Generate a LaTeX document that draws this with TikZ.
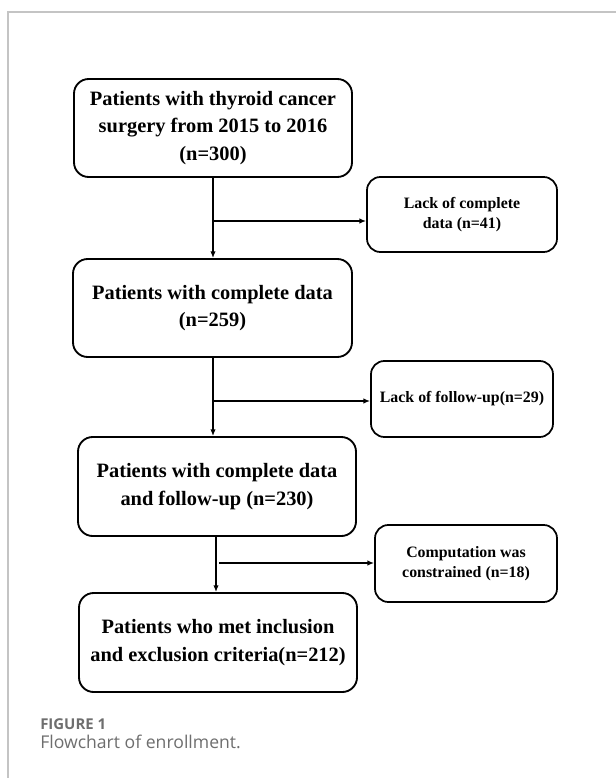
\documentclass[tikz,border=0pt]{standalone}
\usepackage{fontspec}
\setmainfont{Liberation Serif}
\newfontfamily\capfont{Open Sans}
\usetikzlibrary{arrows.meta}
\definecolor{framegray}{HTML}{C4C4C4}
\definecolor{capgray}{HTML}{6E6E6E}
\begin{document}
\begin{tikzpicture}[x=0.75pt,y=-0.75pt,
  mainbox/.style={draw=black,line width=1.4pt,rounded corners=11pt,inner sep=0pt,
    align=center,font=\fontsize{15.3}{20.5}\selectfont\bfseries},
  sidebox/.style={draw=black,line width=1.3pt,rounded corners=10pt,inner sep=0pt,
    align=center,font=\fontsize{11.9}{15}\selectfont\bfseries},
  arr/.style={line width=1.1pt,-{Latex[length=5pt,width=4pt]}},
  framel/.style={draw=framegray,line width=1.1pt}]
\useasboundingbox (0,0) rectangle (616,778);
\fill[white] (0,0) rectangle (616,778);
% frame
\draw[framel] (8,778) -- (8,12) -- (616,12);
% main boxes
\node[mainbox,minimum width=208.5pt,minimum height=73.5pt] (b1) at (213,128)
  {Patients with thyroid cancer\\surgery from 2015 to 2016\\(n=300)};
\node[mainbox,minimum width=209.25pt,minimum height=73.5pt] (b2) at (212.5,308)
  {Patients with complete data\\(n=259)};
\node[mainbox,minimum width=208.5pt,minimum height=74.25pt] (b3) at (217,486.5)
  {Patients with complete data\\and follow-up (n=230)};
\node[mainbox,minimum width=208.5pt,minimum height=74.25pt] (b4) at (218,642.5)
  {Patients who met inclusion\\and exclusion criteria(n=212)};
% side boxes
\node[sidebox,minimum width=142.5pt,minimum height=56.25pt] (s1) at (462,214.5)
  {Lack of complete\\data (n=41)};
\node[sidebox,minimum width=136.5pt,minimum height=57pt] (s2) at (462,399)
  {Lack of follow-up(n=29)};
\node[sidebox,minimum width=136.5pt,minimum height=57.75pt] (s3) at (466,563.5)
  {Computation was\\constrained (n=18)};
% connectors
\coordinate (t1) at (213,177);
\coordinate (t2) at (213,357);
\coordinate (t3) at (216,536);
\coordinate (j1) at (213,221);
\coordinate (j2) at (213,401);
\coordinate (j3) at (219,563);
\draw[arr] (t1) -- (t1 |- b2.north);
\draw[arr] (j1) -- (j1 -| s1.west);
\draw[arr] (t2) -- (t2 |- b3.north);
\draw[arr] (j2) -- (j2 -| s2.west);
\draw[arr] (t3) -- (t3 |- b4.north);
\draw[arr] (j3) -- (j3 -| s3.west);
% caption
\node[anchor=west,inner sep=0pt,text=capgray,font=\capfont\bfseries\fontsize{11.2}{13}\selectfont] (cap1) at (40,724) {FIGURE 1};
\node[anchor=west,inner sep=0pt,text=capgray,font=\capfont\fontsize{13.2}{15}\selectfont] (cap2) at (40,742) {Flowchart of enrollment.};
\end{tikzpicture}
\end{document}
